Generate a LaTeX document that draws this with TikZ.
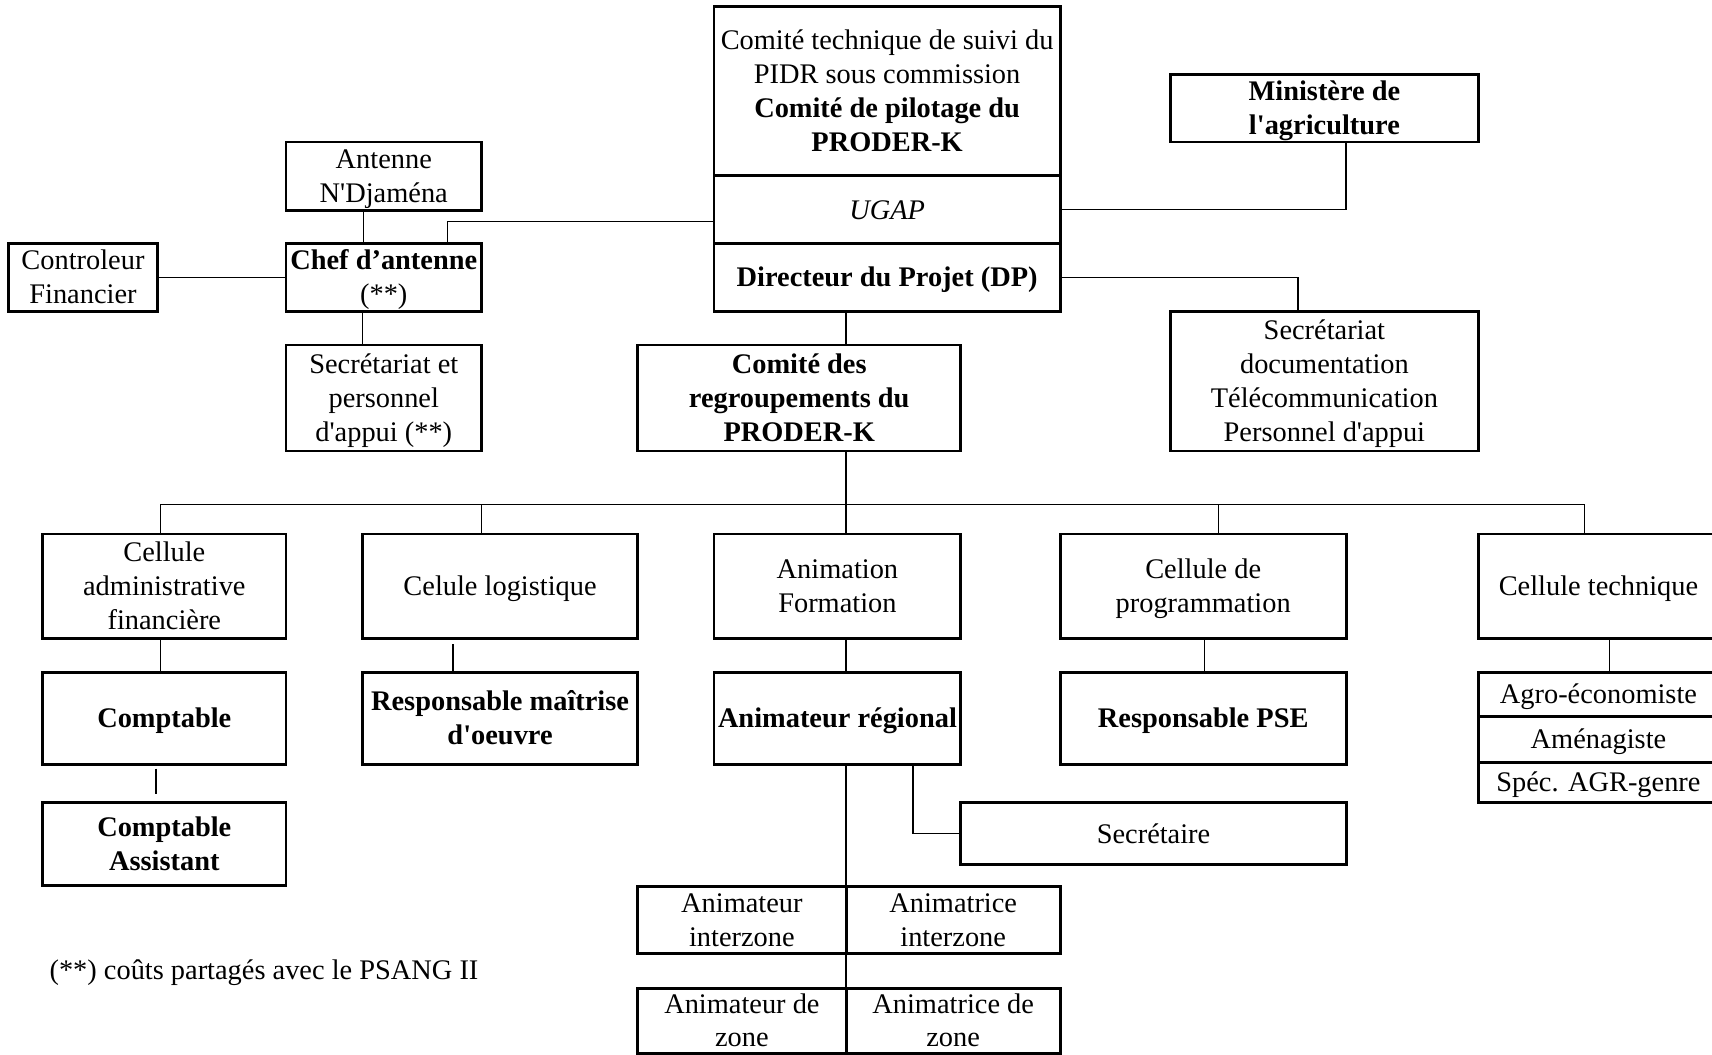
\documentclass[tikz,border=0pt]{standalone}
\usepackage{fontspec}
\setmainfont{Liberation Serif}[Ligatures=TeXOff]
\newcommand\lnstrut{\rule[-0.22em]{0pt}{1.1em}}
\tikzset{
  box/.style={draw, line width=1.3pt, inner sep=0pt, outer sep=0pt, align=center,
    font=\fontsize{13}{15.5}\selectfont},
  bbox/.style={box, font=\fontsize{13}{15.5}\selectfont\bfseries},
  conn/.style={line width=0.7pt},
}
\newcommand\bx[7][]{\node[box,#1,anchor=north west,
  minimum width={(#5-#3)*0.5pt},minimum height={(#6-#4)*0.5pt}] (#2) at (#3,#4) {\lnstrut#7\lnstrut};}
\begin{document}
\begin{tikzpicture}[x=0.5pt,y=-0.5pt]
\useasboundingbox (0,0) rectangle (1568,966);
% top column
\bx{topA}{654}{6}{971}{161}{Comité technique de suivi du\\PIDR sous commission\\\textbf{Comité de pilotage du}\\\textbf{PRODER-K}}
\bx{ugap}{654}{161}{971}{223}{\textit{UGAP}}
\bx[bbox]{dp}{654}{223}{971}{285}{Directeur du Projet (DP)}
\bx[bbox]{min}{1072}{68}{1354}{130}{Ministère de\\l'agriculture}
\bx{secdoc}{1072}{285}{1354}{413}{Secrétariat\\documentation\\Télécommunication\\Personnel d'appui}
\bx[bbox]{crp}{584}{316}{880}{413}{Comité des\\regroupements du\\PRODER-K}
% antenne
\bx{ant}{262}{130}{441}{193}{Antenne\\N'Djaména}
\bx{chef}{262}{223}{441}{285}{\textbf{Chef d’antenne}\\(**)}
\bx{ctrl}{8}{223}{144}{285}{Controleur\\Financier}
\bx{secap}{262}{316}{441}{413}{Secrétariat et\\personnel\\d'appui (**)}
% row 2
\bx{cadm}{39}{489}{262}{585}{Cellule\\administrative\\financière}
\bx{logi}{332}{489}{584}{585}{Celule logistique}
\bx{anim}{654}{489}{880}{585}{Animation\\Formation}
\bx{prog}{971}{489}{1233}{585}{Cellule de\\programmation}
\bx{ctech}{1354}{489}{1574}{585}{Cellule technique}
% row 3
\bx[bbox]{compt}{39}{616}{262}{700}{Comptable}
\bx[bbox]{resp}{332}{616}{584}{700}{Responsable maîtrise\\d'oeuvre}
\bx[bbox]{areg}{654}{616}{880}{700}{Animateur régional}
\bx[bbox]{pse}{971}{616}{1233}{700}{Responsable PSE}
\bx{agro}{1354}{616}{1574}{656}{Agro-économiste}
\bx{amen}{1354}{656}{1574}{698}{Aménagiste}
\bx{spec}{1354}{698}{1574}{735}{Spéc. AGR-genre}
% row 4+
\bx[bbox]{cass}{39}{735}{262}{811}{Comptable\\Assistant}
\bx{sec}{880}{735}{1233}{792}{Secrétaire}
\bx{aiz1}{584}{812}{775}{873}{Animateur\\interzone}
\bx{aiz2}{775}{812}{971}{873}{Animatrice\\interzone}
\bx{az1}{584}{905}{775}{964}{Animateur de\\zone}
\bx{az2}{775}{905}{971}{964}{Animatrice de\\zone}
\node[anchor=west, inner sep=0pt, font=\fontsize{13}{15.5}\selectfont] (note) at (45,891) {(**) coûts partagés avec le PSANG II};
% connectors
\draw[conn] (ant.south -| 333,0) -- (chef.north -| 333,0);
\draw[conn] (chef.north -| 410,0) |- (ugap.west |- 0,203);
\draw[conn] (ctrl.east) -- (chef.west);
\draw[conn] (chef.south -| 332,0) -- (secap.north -| 332,0);
\draw[conn] (ugap.east) -| (min.south -| 1233,0);
\draw[conn] (dp.east) -| (secdoc.north -| 1189,0);
\draw[conn] (dp.south -| 775,0) -- (crp.north -| 775,0);
\coordinate (busL) at (147,462);
\coordinate (busR) at (1451,462);
\coordinate (busM) at (775,462);
\draw[conn] (crp.south -| busM) -- (busM);
\draw[conn] (busL) -- (busR);
\draw[conn] (busL) -- (cadm.north -| busL);
\draw[conn] (busM -| 441,0) -- (logi.north -| 441,0);
\draw[conn] (busM) -- (anim.north -| busM);
\draw[conn] (busM -| 1116,0) -- (prog.north -| 1116,0);
\draw[conn] (busR) -- (ctech.north -| busR);
\draw[conn] (cadm.south -| 147,0) -- (compt.north -| 147,0);
\draw[conn, shorten <=2.5pt] (logi.south -| 415,0) -- (resp.north -| 415,0);
\draw[conn] (anim.south -| 775,0) -- (areg.north -| 775,0);
\draw[conn] (prog.south -| 1103,0) -- (pse.north -| 1103,0);
\draw[conn] (ctech.south -| 1474,0) -- (agro.north -| 1474,0);
\draw[conn, shorten <=2pt, shorten >=4pt] (compt.south -| 143,0) -- (cass.north -| 143,0);
\draw[conn] (areg.south -| 836,0) |- (sec.west);
\draw[conn] (areg.south -| 775,0) -- (aiz1.north east);
\draw[conn] (aiz1.south east) -- (az1.north east);
\end{tikzpicture}
\end{document}
